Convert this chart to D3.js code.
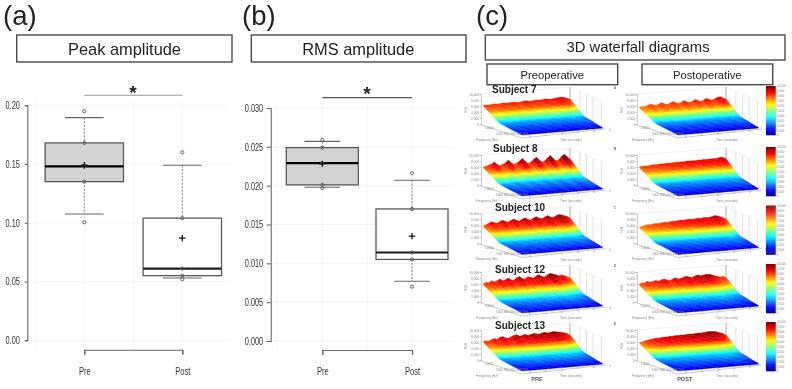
<!DOCTYPE html>
<html><head><meta charset="utf-8"><style>
html,body{margin:0;padding:0;background:#fff}
svg{display:block;filter:blur(0.55px)}
text{font-family:"Liberation Sans",Arial,sans-serif}
</style><script src="https://cdn.jsdelivr.net/npm/d3@7/dist/d3.min.js"></script></head><body>
<svg id="c" width="792" height="389" viewBox="0 0 792 389"></svg>
<script>
// ---------- box plot data ----------
const groups = ["Pre","Post"];
const peakPreBox  = {hi:0.1895,q3:0.168,med:0.148,q1:0.135,lo:0.1075,mean:0.149};
const peakPostBox = {hi:0.149,q3:0.104,med:0.061,q1:0.055,lo:0.053,mean:0.087};
const peakPrePoints  = [0.195,0.168,0.148,0.135,0.1005];
const peakPostPoints = [0.160,0.104,0.061,0.055,0.052];
const rmsPreBox  = {hi:0.0257,q3:0.0249,med:0.0229,q1:0.0201,lo:0.0198,mean:0.0228};
const rmsPostBox = {hi:0.0207,q3:0.0170,med:0.0114,q1:0.0105,lo:0.0077,mean:0.0135};
const rmsPrePoints  = [0.0259,0.0249,0.0229,0.0201,0.0197];
const rmsPostPoints = [0.0216,0.0170,0.0114,0.0105,0.0070];
const peakTicks = [0,0.05,0.10,0.15,0.20];
const rmsTicks  = [0,0.005,0.010,0.015,0.020,0.025,0.030];

// ---------- waterfall data: ridge height per time step, in hundreds ----------
const subjects = ["Subject 7","Subject 8","Subject 10","Subject 12","Subject 13"];
const panelLetters = ["A","B","C","D","E"];
const s7pre  = [80,81,80,82,83,81,82,84,83,82,84,85,83,82,84,86,84,83,85,86,84,85,87,86,85,86,88,89,90,87,84,80];
const s7post = [74,76,75,78,82,79,76,79,84,80,77,80,85,81,77,80,86,81,78,81,87,82,79,82,88,83,80,84,89,90,85,80];
const s8pre  = [78,80,83,86,94,84,79,82,88,97,86,80,83,90,99,88,80,82,92,100,89,81,83,94,102,90,81,84,96,103,92,84];
const s8post = [78,80,81,80,82,83,82,83,84,83,85,84,85,86,85,86,85,87,86,87,86,88,87,88,87,88,89,88,90,92,90,85];
const s10pre  = [76,80,84,90,86,83,88,92,87,84,90,94,88,85,91,95,89,86,92,96,90,87,92,97,91,88,94,98,95,92,88,82];
const s10post = [72,75,77,79,78,80,81,80,82,83,82,84,85,84,86,87,85,87,88,86,88,89,87,90,89,88,91,94,92,88,84,78];
const s12pre  = [78,84,80,88,83,86,92,85,88,94,86,84,92,96,88,85,93,90,86,94,97,90,87,95,99,96,92,88,90,86,82,78];
const s12post = [76,82,80,86,82,84,87,83,88,90,85,83,88,91,86,88,92,94,90,88,93,95,92,94,96,95,92,88,85,82,84,78];
const s13pre  = [80,82,80,84,88,84,90,93,88,85,90,94,96,90,92,95,90,93,96,94,92,95,97,94,96,98,96,94,92,90,86,80];
const s13post = [76,78,80,83,85,86,88,87,89,90,89,91,90,92,91,93,92,93,94,93,94,95,94,96,97,98,97,96,94,90,86,80];
const preRidges  = [s7pre,s8pre,s10pre,s12pre,s13pre];
const postRidges = [s7post,s8post,s10post,s12post,s13post];
// share of ridge height kept going from the ridge to the front of the surface
const depthStops = [0,0.1,0.22,0.32,0.43,0.54,0.64,0.8,0.9,0.97,1];
const depthShare = [1.01,0.99,0.92,0.78,0.62,0.48,0.33,0.23,0.18,0.13,0.03];
const zTicks = [0,2000,4000,6000,8000,10000];
const barTicks = [0,1000,2000,3000,4000,5000,6000,7000,8000,9000,10000];
const timeTicks = [0,1,2,3,4,5];
const freqLabels = ["10000","1000 800 600 400 200"];
const jetStops = ["#00008f","#0000ff","#0080ff","#00ffff","#80ff80","#ffff00","#ff8000","#ff0000","#800000"];

// ---------- layout ----------
const svg = d3.select("#c");
const ink = "#4a4a4a";
const squeeze = (sel,k) => sel.each(function(){
  const w = this.getComputedTextLength();
  d3.select(this).attr("textLength",w*k).attr("lengthAdjust","spacingAndGlyphs");
});
function label(t,x,y,size,anchor){
  return svg.append("text").attr("x",x).attr("y",y).attr("font-size",size)
    .attr("text-anchor",anchor||"start").attr("fill","#222").text(t);
}
function titleBox(t,x0,x1,y0,y1,size,base,cx){
  svg.append("rect").attr("x",x0).attr("y",y0).attr("width",x1-x0).attr("height",y1-y0)
    .attr("fill","#fff").attr("stroke",ink).attr("stroke-width",1.4);
  label(t,cx,base,size,"middle");
}
label("(a)",3,25,27.5); label("(b)",242,25,27.5); label("(c)",476,25,27.5);
titleBox("Peak amplitude",16.7,232,35,62,16.4,55,124.5);
titleBox("RMS amplitude",251.3,466,35,62,16.4,55,358.3);
titleBox("3D waterfall diagrams",485.3,785,35,60,14.8,51.7,638);
titleBox("Preoperative",487,617.7,64,84.7,11.2,78.7,552.3);
titleBox("Postoperative",642,772.7,64,84.7,11.2,78.7,707.3);

// ---------- box plots ----------
function boxPanel(o){
  const g = svg.append("g");
  const y = d3.scaleLinear().domain([0,o.max]).range([o.y0,o.y1]);
  const x = d3.scalePoint().domain(groups).range([o.cx0,o.cx1]);
  g.append("g").selectAll("line").data(o.ticks).join("line")
    .attr("x1",o.axisX).attr("x2",o.gridR).attr("y1",d=>y(d)).attr("y2",d=>y(d))
    .attr("stroke","#f0f0f0").attr("stroke-width",0.8);
  g.append("g").selectAll("line").data(o.gridX).join("line")
    .attr("x1",d=>d).attr("x2",d=>d).attr("y1",o.y1-5).attr("y2",o.y0+11)
    .attr("stroke","#f2f2f2").attr("stroke-width",0.8);
  const ya = g.append("g").attr("transform",`translate(${o.axisX},0)`)
    .call(d3.axisLeft(y).tickValues(o.ticks).tickFormat(d3.format(o.fmt)).tickSize(o.tick).tickPadding(o.pad));
  ya.selectAll("path,line").attr("stroke","#666").attr("stroke-width",1.1);
  ya.selectAll("text").attr("font-size",10.5).attr("font-family",'"Liberation Sans"').attr("fill","#333").call(squeeze,0.7);
  const xa = g.append("g").attr("transform",`translate(0,${o.bracketY})`)
    .call(d3.axisBottom(x).tickSizeOuter(0).tickSize(5).tickPadding(13));
  xa.selectAll("path,line").attr("stroke","#666").attr("stroke-width",1.1);
  xa.selectAll("text").attr("font-size",10.5).attr("font-family",'"Liberation Sans"').attr("fill","#333").call(squeeze,0.72);
  o.boxes.forEach((b,i)=>{
    const c = x(groups[i]), hb = o.boxW/2, hc = o.capW/2;
    const bg = g.append("g");
    bg.selectAll("line.w").data([[b.hi,b.q3],[b.q1,b.lo]]).join("line").attr("class","w")
      .attr("x1",c).attr("x2",c).attr("y1",d=>y(d[0])).attr("y2",d=>y(d[1]))
      .attr("stroke","#8a8a8a").attr("stroke-width",1.1).attr("stroke-dasharray","2 1.5");
    bg.selectAll("line.c").data([b.hi,b.lo]).join("line").attr("class","c")
      .attr("x1",c-hc).attr("x2",c+hc).attr("y1",d=>y(d)).attr("y2",d=>y(d))
      .attr("stroke","#666").attr("stroke-width",1.1);
    bg.append("rect").attr("x",c-hb).attr("width",o.boxW).attr("y",y(b.q3)).attr("height",y(b.q1)-y(b.q3))
      .attr("fill",i===0?"#d3d3d3":"#fff").attr("stroke","#5a5a5a").attr("stroke-width",1.3);
    bg.append("line").attr("x1",c-hb).attr("x2",c+hb).attr("y1",y(b.med)).attr("y2",y(b.med))
      .attr("stroke",i===0?"#000":"#1c1c1c").attr("stroke-width",2.1);
    bg.selectAll("circle").data(o.points[i]).join("circle")
      .attr("cx",c).attr("cy",d=>y(d)).attr("r",1.6).attr("fill","none").attr("stroke","#666").attr("stroke-width",1);
    bg.append("path").attr("d",`M${c-3.2},${y(b.mean)}H${c+3.2}M${c},${y(b.mean)-3.2}V${y(b.mean)+3.2}`)
      .attr("stroke","#111").attr("stroke-width",1.3).attr("fill","none");
  });
  g.append("line").attr("x1",o.cx0).attr("x2",o.cx1).attr("y1",o.sigY).attr("y2",o.sigY)
    .attr("stroke",o.sigColor).attr("stroke-width",o.sigW);
  g.append("text").attr("x",o.starX).attr("y",o.starY).attr("text-anchor","middle")
    .attr("font-size",19).attr("font-weight","bold").attr("fill","#222").text("*");
}
boxPanel({max:0.20,ticks:peakTicks,fmt:".2f",y0:340.3,y1:105.3,axisX:27.3,gridR:228,gridX:[35.7,84.3,134,182.3],
  cx0:84.3,cx1:182.3,boxW:78.4,capW:38.7,tick:2.5,pad:5,bracketY:349.7,
  boxes:[peakPreBox,peakPostBox],points:[peakPrePoints,peakPostPoints],
  sigY:95.3,sigColor:"#999",sigW:1.1,starX:133,starY:98.5});
boxPanel({max:0.030,ticks:rmsTicks,fmt:".3f",y0:341,y1:108,axisX:270.7,gridR:453,gridX:[277,322.3,367,412],
  cx0:322.3,cx1:412,boxW:72,capW:35.7,tick:4,pad:3.5,bracketY:350,
  boxes:[rmsPreBox,rmsPostBox],points:[rmsPrePoints,rmsPostPoints],
  sigY:97.7,sigColor:"#555",sigW:1.3,starX:367,starY:100});

// ---------- waterfalls ----------
const jet = d3.scaleLinear().domain(jetStops.map((_,i)=>i/(jetStops.length-1)*10000)).range(jetStops).interpolate(d3.interpolateRgb).clamp(true);
const share = d3.scaleLinear().domain(depthStops).range(depthShare);
const rowOffsets = [0,61,119.5,178,236];
const subjectPos = [[492,93],[493,152],[495,210.7],[495,272.7],[495,329.3]];
const bend = d3.scaleLinear().domain([0,0.6,1]).range([0,0.42,1]);
const rows = d3.range(0,27);

function waterfall(ridge,dx,dy){
  const g = svg.append("g").attr("transform",`translate(${dx},${dy})`);
  const wall = "#c4c4c4";
  const wallX = d3.scaleLinear().domain([0,1]).range([570,603]);
  const wallTop = d3.scaleLinear().domain([0,1]).range([87,102]);
  const wallBot = d3.scaleLinear().domain([0,1]).range([120,130]);
  g.selectAll("line.wl").data([0,0.3,0.5,0.7,0.95]).join("line").attr("class","wl")
    .attr("x1",d=>wallX(d)).attr("x2",d=>wallX(d)).attr("y1",d=>wallTop(d)).attr("y2",d=>wallBot(d))
    .attr("stroke",(d,i)=>i?wall:"#888").attr("stroke-width",(d,i)=>i?0.5:0.7);
  g.append("line").attr("x1",481).attr("x2",570).attr("y1",94).attr("y2",87).attr("stroke","#e2e2e2").attr("stroke-width",0.5);
  g.append("line").attr("x1",570).attr("x2",603).attr("y1",87).attr("y2",102).attr("stroke","#e2e2e2").attr("stroke-width",0.5);
  const zAxis = d3.scaleLinear().domain([0,10000]).range([124,94]);
  const za = g.append("g").attr("transform","translate(481,0)")
    .call(d3.axisLeft(zAxis).tickValues(zTicks).tickSize(1.5).tickPadding(0.5));
  za.selectAll("path,line").attr("stroke","#999").attr("stroke-width",0.5);
  za.selectAll("text").attr("font-size",3.2).attr("fill","#888");
  g.append("path").attr("d","M481,125L522,138L606,129").attr("fill","none").attr("stroke","#aaa").attr("stroke-width",0.6);
  const n = ridge.length;
  const xTop = t=>483+87*t, yTop = t=>105-6.5*t, xBot = t=>522+81*t, yBot = t=>135-7*t;
  const pt = (i,k)=>{
    const t=i/(n-1), s=k/(rows.length-1), b=bend(s);
    const lift=(ridge[i]-82)*0.27*(1-s)*(1-s);
    return [xTop(t)+(xBot(t)-xTop(t))*b, yTop(t)+(yBot(t)-yTop(t))*s-lift];
  };
  const quads=[];
  for(let k=0;k<rows.length-1;k++) for(let i=0;i<n-1;i++){
    const s=(k+0.5)/(rows.length-1);
    const z=(ridge[i]+ridge[i+1])/2*100*share(s);
    const p=[pt(i,k),pt(i+1,k),pt(i+1,k+1),pt(i,k+1)];
    quads.push({bin:Math.round(z/150)*150,d:"M"+p.map(q=>q[0].toFixed(1)+","+q[1].toFixed(1)).join("L")+"Z"});
  }
  const bins = d3.rollups(quads,v=>v.map(q=>q.d).join(""),q=>q.bin);
  g.selectAll("path.s").data(bins).join("path").attr("class","s")
    .attr("d",d=>d[1]).attr("fill",d=>jet(d[0])).attr("stroke",d=>jet(d[0])).attr("stroke-width",0.35);
  const tiny = (t,x,y)=>g.append("text").attr("x",x).attr("y",y).attr("font-size",3.2).attr("fill","#888").text(t);
  timeTicks.forEach((d,i)=>tiny(d,529+i*16,137-i*1.2));
  tiny(freqLabels[0],485,129);
  tiny(freqLabels[1],496,135);
  tiny("Frequency (Hz)",476,140.5);
  tiny("Time (seconds)",560,141);
}
preRidges.forEach((r,i)=>waterfall(r,0,rowOffsets[i]));
postRidges.forEach((r,i)=>waterfall(r,156,rowOffsets[i]));

subjects.forEach((t,i)=>{
  svg.append("text").attr("x",subjectPos[i][0]).attr("y",subjectPos[i][1]).attr("font-size",10)
    .attr("font-weight","bold").attr("fill","#222").text(t);
  const off=rowOffsets[i];
  svg.append("text").attr("x",615).attr("y",89+off).attr("font-size",3.6).attr("font-weight","bold").attr("fill","#777").attr("text-anchor","middle").text(panelLetters[i]);
  [466.7,622.7].forEach(x=>{
    svg.append("text").attr("transform",`translate(${x},${110+off}) rotate(-90)`).attr("font-size",3.6)
      .attr("fill","#888").attr("text-anchor","middle").text("R,B");
  });
  const by=d3.scaleLinear().domain([0,10000]).range([135+off,86+off]);
  const bar=svg.append("g");
  bar.selectAll("rect").data(d3.range(0,10000,200)).join("rect")
    .attr("x",766).attr("width",9.7).attr("y",d=>by(d+200)).attr("height",d=>by(d)-by(d+200)+0.3)
    .attr("fill",d=>jet(d+100));
  const ba=bar.append("g").attr("transform","translate(775.7,0)")
    .call(d3.axisRight(by).tickValues(barTicks).tickSize(1).tickPadding(0.5));
  ba.selectAll("path,line").attr("stroke","#999").attr("stroke-width",0.3);
  ba.selectAll("text").attr("font-size",2.8).attr("fill","#888");
});
svg.append("text").attr("x",537).attr("y",381).attr("text-anchor","middle").attr("font-size",5.5).attr("font-weight","bold").attr("fill","#555").text("PRE");
svg.append("text").attr("x",684.7).attr("y",381).attr("text-anchor","middle").attr("font-size",5.5).attr("font-weight","bold").attr("fill","#555").text("POST");
</script></body></html>
